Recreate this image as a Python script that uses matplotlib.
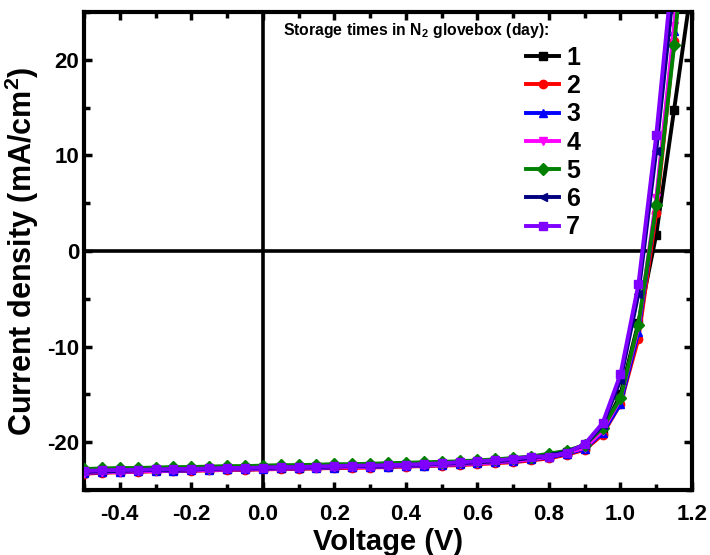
import numpy as np
import matplotlib
matplotlib.use('Agg')
import matplotlib.pyplot as plt
from matplotlib.ticker import MultipleLocator

fam = 'Liberation Sans'
plt.rcParams['font.family'] = [fam, 'DejaVu Sans']
plt.rcParams['font.weight'] = 'bold'
plt.rcParams['axes.unicode_minus'] = False
plt.rcParams['mathtext.fontset'] = 'custom'
plt.rcParams['mathtext.rm'] = fam + ':bold'
plt.rcParams['mathtext.it'] = fam + ':bold'
plt.rcParams['mathtext.bf'] = fam + ':bold'

# voltage steps (V)
voltage = [-0.50, -0.45, -0.40, -0.35, -0.30, -0.25, -0.20, -0.15, -0.10, -0.05,
           0.00, 0.05, 0.10, 0.15, 0.20, 0.25, 0.30, 0.35, 0.40, 0.45,
           0.50, 0.55, 0.60, 0.65, 0.70, 0.75, 0.80, 0.85, 0.90, 0.95,
           1.00, 1.05, 1.10, 1.15, 1.20]

# current density (mA/cm2), one list per storage day
day1 = [-23.1, -23.0, -23.0, -22.95, -22.9, -22.9, -22.85, -22.8, -22.8, -22.75,
        -22.7, -22.7, -22.65, -22.6, -22.6, -22.55, -22.5, -22.5, -22.4, -22.35,
        -22.3, -22.2, -22.1, -22.0, -21.9, -21.7, -21.4, -21.0, -20.4, -18.8,
        -15.0, -7.5, 1.7, 14.8, 28.0]
day2 = [-23.3, -23.2, -23.15, -23.1, -23.05, -23.0, -23.0, -22.95, -22.9, -22.9,
        -22.85, -22.8, -22.8, -22.75, -22.7, -22.7, -22.65, -22.6, -22.55, -22.5,
        -22.45, -22.4, -22.3, -22.2, -22.1, -21.9, -21.7, -21.3, -20.8, -19.2,
        -16.0, -9.2, 4.0, 22.0, 42.0]
day3 = [-23.2, -23.15, -23.1, -23.05, -23.0, -23.0, -22.95, -22.9, -22.85, -22.85,
        -22.8, -22.75, -22.75, -22.7, -22.65, -22.6, -22.6, -22.55, -22.5, -22.45,
        -22.4, -22.3, -22.2, -22.1, -22.0, -21.8, -21.6, -21.2, -20.7, -19.0,
        -16.0, -8.5, 5.0, 23.0, 43.0]
day4 = [-23.2, -23.1, -23.1, -23.05, -23.0, -22.95, -22.9, -22.9, -22.85, -22.8,
        -22.75, -22.75, -22.7, -22.65, -22.6, -22.6, -22.55, -22.5, -22.45, -22.4,
        -22.35, -22.3, -22.2, -22.1, -21.95, -21.8, -21.5, -21.1, -20.6, -18.8,
        -15.5, -8.0, 5.5, 23.5, 44.0]
day5 = [-22.8, -22.75, -22.7, -22.7, -22.65, -22.6, -22.6, -22.55, -22.5, -22.5,
        -22.45, -22.4, -22.4, -22.35, -22.3, -22.3, -22.25, -22.2, -22.15, -22.1,
        -22.05, -22.0, -21.9, -21.8, -21.65, -21.5, -21.2, -20.9, -20.3, -18.5,
        -15.4, -7.7, 4.8, 21.5, 41.0]
day6 = [-23.1, -23.05, -23.0, -22.95, -22.9, -22.9, -22.85, -22.8, -22.75, -22.75,
        -22.7, -22.65, -22.65, -22.6, -22.55, -22.5, -22.5, -22.45, -22.4, -22.35,
        -22.25, -22.2, -22.1, -22.0, -21.85, -21.65, -21.4, -21.0, -20.3, -18.2,
        -13.5, -4.5, 10.5, 28.0, 48.0]
day7 = [-23.0, -22.95, -22.9, -22.9, -22.85, -22.8, -22.8, -22.75, -22.7, -22.7,
        -22.65, -22.6, -22.6, -22.55, -22.5, -22.45, -22.45, -22.4, -22.35, -22.3,
        -22.2, -22.1, -22.0, -21.9, -21.75, -21.5, -21.5, -21.1, -20.2, -18.0,
        -12.9, -3.5, 12.1, 31.0, 52.0]

labels = ['1', '2', '3', '4', '5', '6', '7']
colors = ['black', '#ff0000', '#0000ff', '#ff00ff', '#008000', '#000080', '#8000ff']
markers = ['s', 'o', '^', 'v', 'D', '<', 's']

fig = plt.figure(figsize=(7.1, 5.55), dpi=100)
ax = fig.add_axes([84 / 710, 1 - 490 / 555, 608 / 710, 478 / 555])

ax.axhline(0, color='black', lw=2.6, zorder=1)
ax.axvline(0, color='black', lw=2.6, zorder=1)

for J, lab, c, m in zip([day1, day2, day3, day4, day5, day6, day7], labels, colors, markers):
    ax.plot(voltage, J, color=c, marker=m, ms=6, lw=2.8, label=lab, zorder=3)

ax.set_xlim(-0.5, 1.2)
ax.set_ylim(-25, 25)
ax.xaxis.set_major_locator(MultipleLocator(0.2))
ax.xaxis.set_minor_locator(MultipleLocator(0.1))
ax.yaxis.set_major_locator(MultipleLocator(10))
ax.yaxis.set_minor_locator(MultipleLocator(5))
ax.xaxis.set_major_formatter(lambda v, p: '%.1f' % v)
ax.tick_params(which='both', direction='in', top=True, right=True, labelsize=16, width=2.5)
ax.tick_params(which='major', length=6)
ax.tick_params(which='minor', length=4)
ax.tick_params(axis='x', which='major', pad=10)
for s in ax.spines.values():
    s.set_linewidth(3)

ax.set_xlabel('Voltage (V)', fontsize=21, fontweight='bold', labelpad=2)
ax.set_ylabel('Current density (mA/cm$^2$)', fontsize=22, fontweight='bold', labelpad=4)

ax.text(0.327, 0.962, 'Storage times in N$_2$ glovebox (day):', transform=ax.transAxes,
        fontsize=11.3, fontweight='bold', ha='left', va='center')
leg = ax.legend(loc='upper right', bbox_to_anchor=(0.845, 0.966), frameon=False, fontsize=18,
                handlelength=1.3, handletextpad=0.3, labelspacing=0.17, borderpad=0.2)

fig.savefig('out.png', dpi=100)
